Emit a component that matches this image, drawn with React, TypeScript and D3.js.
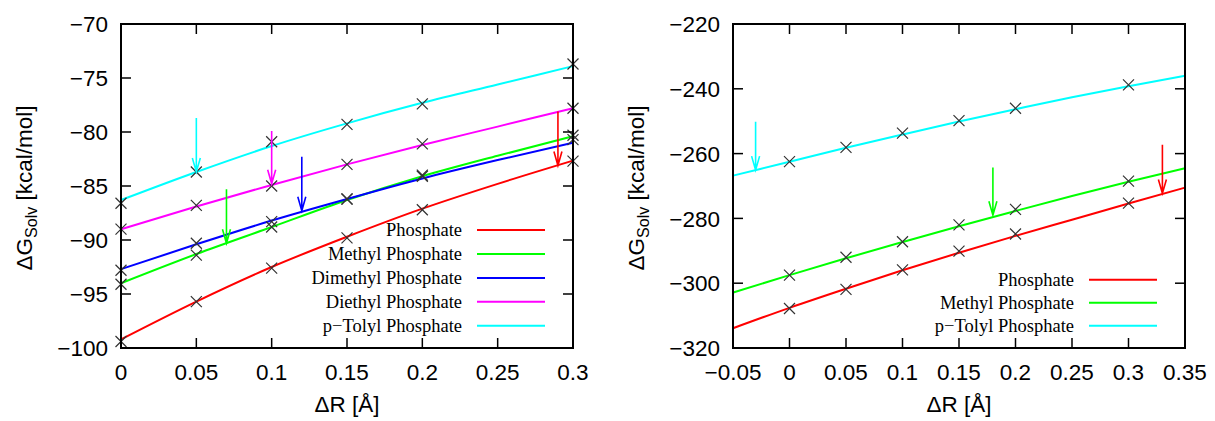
import React from "react";
import * as d3 from "d3";

// ---------- data: left panel ----------
const leftMarkerX = [0, 0.05, 0.1, 0.15, 0.2, 0.3];
const leftPhosphate = [-99.4, -95.7, -92.6, -89.8, -87.2, -82.7];
const leftMethyl = [-94.1, -91.4, -88.8, -86.2, -84.0, -80.3];
const leftDimethyl = [-92.8, -90.3, -88.3, -86.2, -84.1, -80.7];
const leftDiethyl = [-89.0, -86.8, -85.0, -83.0, -81.1, -77.8];
const leftTolyl = [-86.6, -83.7, -80.9, -79.3, -77.4, -73.7];

const leftFitX = [0, 0.05, 0.1, 0.15, 0.2, 0.25, 0.3];
const leftFitPhosphate = [-99.2, -95.7, -92.5, -89.7, -87.1, -84.8, -82.65];
const leftFitMethyl = [-94.0, -91.3, -88.8, -86.3, -84.1, -82.2, -80.4];
const leftFitDimethyl = [-92.7, -90.4, -88.2, -86.2, -84.3, -82.6, -81.0];
const leftFitDiethyl = [-89.0, -86.9, -84.9, -83.0, -81.2, -79.5, -77.8];
const leftFitTolyl = [-86.3, -83.7, -81.3, -79.2, -77.3, -75.6, -73.9];

const leftXTicks = [0, 0.05, 0.1, 0.15, 0.2, 0.25, 0.3];
const leftXTickLabels = ["0", "0.05", "0.1", "0.15", "0.2", "0.25", "0.3"];
const leftYTicks = [-100, -95, -90, -85, -80, -75, -70];
const leftYTickLabels = ["−100", "−95", "−90", "−85", "−80", "−75", "−70"];

// arrows: [x, yStart, yEnd]
const leftArrowTolyl = [0.05, -78.7, -83.7];
const leftArrowDiethyl = [0.1, -79.9, -84.8];
const leftArrowDimethyl = [0.12, -82.3, -87.3];
const leftArrowMethyl = [0.07, -85.3, -90.3];
const leftArrowPhosphate = [0.29, -78.1, -83.1];

// ---------- data: right panel ----------
const rightMarkerX = [0, 0.05, 0.1, 0.15, 0.2, 0.3];
const rightPhosphate = [-307.8, -301.9, -295.9, -290.1, -284.8, -275.3];
const rightMethyl = [-297.5, -292.0, -287.2, -282.0, -277.2, -268.5];
const rightTolyl = [-262.5, -258.1, -253.7, -249.8, -246.0, -238.8];

const rightFitX = [-0.05, 0, 0.05, 0.1, 0.15, 0.2, 0.25, 0.3, 0.35];
const rightFitPhosphate = [-313.9, -307.6, -301.7, -296.0, -290.6, -285.4, -280.4, -275.4, -270.5];
const rightFitMethyl = [-302.9, -297.5, -292.3, -287.3, -282.4, -277.7, -273.1, -268.7, -264.5];
const rightFitTolyl = [-266.8, -262.5, -258.2, -254.1, -250.1, -246.3, -242.6, -239.2, -236.0];

const rightXTicks = [-0.05, 0, 0.05, 0.1, 0.15, 0.2, 0.25, 0.3, 0.35];
const rightXTickLabels = ["−0.05", "0", "0.05", "0.1", "0.15", "0.2", "0.25", "0.3", "0.35"];
const rightYTicks = [-320, -300, -280, -260, -240, -220];
const rightYTickLabels = ["−320", "−300", "−280", "−260", "−240", "−220"];

const rightArrowTolyl = [-0.03, -250.2, -265.1];
const rightArrowMethyl = [0.18, -264.3, -279.0];
const rightArrowPhosphate = [0.33, -257.3, -272.3];

const names = ["Phosphate", "Methyl Phosphate", "Dimethyl Phosphate", "Diethyl Phosphate", "p−Tolyl Phosphate"];
const RED = "#ff0000", GREEN = "#00ff00", BLUE = "#0000ff", MAGENTA = "#ff00ff", CYAN = "#00ffff";

type Series = { name: string; color: string; mx: number[]; my: number[]; fx: number[]; fy: number[] };
type Arrow = { a: number[]; color: string };

const SANS = "'Liberation Sans', Arial, Helvetica, sans-serif";
const SERIF = "'Liberation Serif', 'Times New Roman', serif";

function Panel(props: {
  left: number; right: number; top: number; bottom: number;
  xDomain: [number, number]; yDomain: [number, number];
  xTicks: number[]; xLabels: string[]; yTicks: number[]; yLabels: string[];
  series: Series[]; arrows: Arrow[];
  legendRight: number; legendLine: [number, number]; legendRowGap: number;
}) {
  const { left, right, top, bottom } = props;
  const x = d3.scaleLinear().domain(props.xDomain).range([left, right]);
  const y = d3.scaleLinear().domain(props.yDomain).range([bottom, top]);
  const line = d3.line<[number, number]>().x((d) => x(d[0])).y((d) => y(d[1])).curve(d3.curveMonotoneX);
  const tl = 10;
  const ms = 5.5;
  const n = props.series.length;
  const cy = (top + bottom) / 2;
  const cx = (left + right) / 2;
  return (
    <g>
      {props.series.map((s, i) => (
        <path key={"f" + i} d={line(s.fx.map((v, j) => [v, s.fy[j]] as [number, number])) || ""}
          fill="none" stroke={s.color} strokeWidth={2} />
      ))}
      {props.series.map((s, i) => (
        <g key={"m" + i}>
          {s.mx.map((v, j) => {
            const px = x(v), py = y(s.my[j]);
            return (
              <path key={j} d={`M${px - ms},${py - ms}L${px + ms},${py + ms}M${px - ms},${py + ms}L${px + ms},${py - ms}`}
                stroke="#333" strokeWidth={1.2} fill="none" />
            );
          })}
        </g>
      ))}
      {props.arrows.map((ar, i) => {
        const px = x(ar.a[0]), p0 = y(ar.a[1]), p1 = y(ar.a[2]);
        return (
          <path key={"a" + i} d={`M${px},${p0}L${px},${p1}M${px - 4},${p1 - 14}L${px},${p1}L${px + 4},${p1 - 14}`}
            stroke={ar.color} strokeWidth={1.6} fill="none" />
        );
      })}
      <rect x={left} y={top} width={right - left} height={bottom - top} fill="none" stroke="#000" strokeWidth={2} />
      {props.xTicks.map((t, i) => (
        <g key={"xt" + i}>
          <line x1={x(t)} x2={x(t)} y1={bottom} y2={bottom - tl} stroke="#000" strokeWidth={1.5} />
          <line x1={x(t)} x2={x(t)} y1={top} y2={top + tl} stroke="#000" strokeWidth={1.5} />
          <text x={x(t)} y={380} textAnchor="middle" fontFamily={SANS} fontSize={22.5} fill="#000">{props.xLabels[i]}</text>
        </g>
      ))}
      {props.yTicks.map((t, i) => (
        <g key={"yt" + i}>
          <line x1={left} x2={left + tl} y1={y(t)} y2={y(t)} stroke="#000" strokeWidth={1.5} />
          <line x1={right} x2={right - tl} y1={y(t)} y2={y(t)} stroke="#000" strokeWidth={1.5} />
          <text x={left - 13} y={y(t)} dy="0.36em" textAnchor="end" fontFamily={SANS} fontSize={22.5} fill="#000">{props.yLabels[i]}</text>
        </g>
      ))}
      <text x={cx} y={412} textAnchor="middle" fontFamily={SANS} fontSize={22.5} fill="#000">ΔR [Å]</text>
      <text transform={`translate(${left - 89},${cy + 2}) rotate(-90)`} textAnchor="middle" fontFamily={SANS} fontSize={22.5} fill="#000">
        ΔG<tspan fontSize={16} dy={5}>Solv</tspan><tspan dy={-5}> [kcal/mol]</tspan>
      </text>
      {props.series.map((s, i) => {
        const ry = bottom - 22.3 - (n - 1 - i) * props.legendRowGap;
        return (
          <g key={"l" + i}>
            <text x={props.legendRight} y={ry} dy="0.33em" textAnchor="end" fontFamily={SERIF} fontSize={18.5} fill="#000">{s.name}</text>
            <line x1={props.legendLine[0]} x2={props.legendLine[1]} y1={ry} y2={ry} stroke={s.color} strokeWidth={2} />
          </g>
        );
      })}
    </g>
  );
}

export default function App() {
  const leftSeries: Series[] = [
    { name: names[0], color: RED, mx: leftMarkerX, my: leftPhosphate, fx: leftFitX, fy: leftFitPhosphate },
    { name: names[1], color: GREEN, mx: leftMarkerX, my: leftMethyl, fx: leftFitX, fy: leftFitMethyl },
    { name: names[2], color: BLUE, mx: leftMarkerX, my: leftDimethyl, fx: leftFitX, fy: leftFitDimethyl },
    { name: names[3], color: MAGENTA, mx: leftMarkerX, my: leftDiethyl, fx: leftFitX, fy: leftFitDiethyl },
    { name: names[4], color: CYAN, mx: leftMarkerX, my: leftTolyl, fx: leftFitX, fy: leftFitTolyl },
  ];
  const leftArrows: Arrow[] = [
    { a: leftArrowTolyl, color: CYAN },
    { a: leftArrowDiethyl, color: MAGENTA },
    { a: leftArrowDimethyl, color: BLUE },
    { a: leftArrowMethyl, color: GREEN },
    { a: leftArrowPhosphate, color: RED },
  ];
  const rightSeries: Series[] = [
    { name: names[0], color: RED, mx: rightMarkerX, my: rightPhosphate, fx: rightFitX, fy: rightFitPhosphate },
    { name: names[1], color: GREEN, mx: rightMarkerX, my: rightMethyl, fx: rightFitX, fy: rightFitMethyl },
    { name: names[4], color: CYAN, mx: rightMarkerX, my: rightTolyl, fx: rightFitX, fy: rightFitTolyl },
  ];
  const rightArrows: Arrow[] = [
    { a: rightArrowTolyl, color: CYAN },
    { a: rightArrowMethyl, color: GREEN },
    { a: rightArrowPhosphate, color: RED },
  ];
  return (
    <svg width={1215} height={421} style={{ position: "absolute", left: 0, top: 0, background: "#fff" }}>
      <rect x={0} y={0} width={1215} height={421} fill="#fff" />
      <Panel left={121} right={573} top={24} bottom={348}
        xDomain={[0, 0.3]} yDomain={[-100, -70]}
        xTicks={leftXTicks} xLabels={leftXTickLabels} yTicks={leftYTicks} yLabels={leftYTickLabels}
        series={leftSeries} arrows={leftArrows}
        legendRight={462} legendLine={[477, 545]} legendRowGap={23.9} />
      <Panel left={733} right={1185} top={24} bottom={348}
        xDomain={[-0.05, 0.35]} yDomain={[-320, -220]}
        xTicks={rightXTicks} xLabels={rightXTickLabels} yTicks={rightYTicks} yLabels={rightYTickLabels}
        series={rightSeries} arrows={rightArrows}
        legendRight={1074} legendLine={[1089, 1157]} legendRowGap={23} />
    </svg>
  );
}
